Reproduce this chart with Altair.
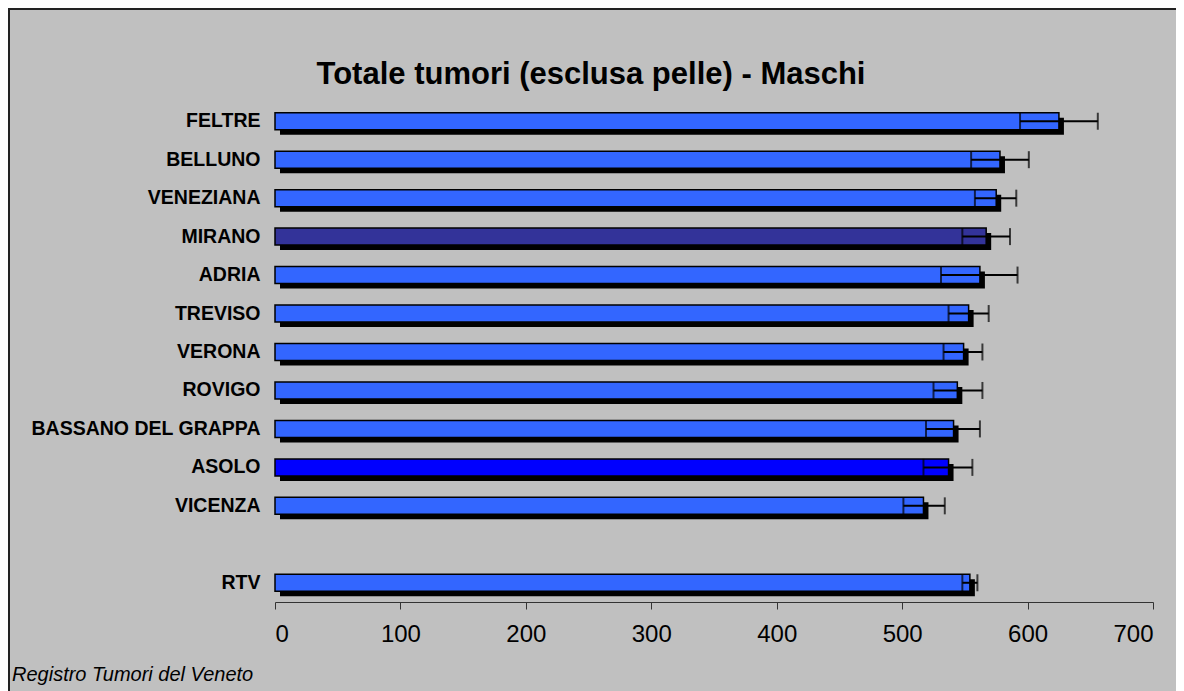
import altair as alt
import pandas as pd

# ---- data ----
areas = ["FELTRE", "BELLUNO", "VENEZIANA", "MIRANO", "ADRIA", "TREVISO",
         "VERONA", "ROVIGO", "BASSANO DEL GRAPPA", "ASOLO", "VICENZA", "RTV"]
rates = [625, 578, 575, 567, 562, 553, 549, 544, 541, 537, 517, 554]
ci_low = [594, 555, 558, 548, 531, 537, 533, 525, 519, 517, 501, 548]
ci_high = [656, 601, 591, 586, 592, 569, 564, 564, 562, 556, 534, 560]
bar_colors = ["#3366FF", "#3366FF", "#3366FF", "#333399", "#3366FF", "#3366FF",
              "#3366FF", "#3366FF", "#3366FF", "#0000FF", "#3366FF", "#3366FF"]
row_order = areas[:11] + [" "] + areas[11:]
x_ticks = [0, 100, 200, 300, 400, 500, 600, 700]
title_text = "Totale tumori (esclusa pelle) - Maschi"
footer_text = "Registro Tumori del Veneto"

df = pd.DataFrame({"area": areas, "rate": rates, "lo": ci_low, "hi": ci_high})

W, H = 878, 500
FONT = "Liberation Sans"

y_axis = alt.Axis(title=None, ticks=False, tickSize=0, domain=False, labelPadding=15,
                  labelFont=FONT, labelFontSize=19.5, labelFontWeight="bold",
                  labelColor="black", labelLimit=400)
y_scale = alt.Scale(domain=row_order, paddingInner=0.558, paddingOuter=0.279)
y_enc = alt.Y("area:N", sort=row_order, scale=y_scale, axis=y_axis)

x_axis = alt.Axis(values=x_ticks, title=None, grid=False, domainColor="#333333",
                  tickColor="#333333", tickSize=7, labelPadding=13,
                  labelFont=FONT, labelFontSize=24, labelColor="black")
x_scale = alt.Scale(domain=[0, 700], nice=False)

base = alt.Chart(df)

shadow = base.mark_bar(color="black", xOffset=5, x2Offset=5, yOffset=5).encode(
    x=alt.X("rate:Q", scale=x_scale, axis=x_axis),
    y=y_enc,
)

bars = base.mark_bar(stroke="black", strokeWidth=1.5).encode(
    x=alt.X("rate:Q", scale=x_scale, axis=x_axis),
    y=y_enc,
    color=alt.Color("area:N", scale=alt.Scale(domain=areas, range=bar_colors), legend=None),
)

err = base.mark_rule(color="black", strokeWidth=2).encode(
    x=alt.X("lo:Q", scale=x_scale, axis=x_axis), x2="hi:Q", y=y_enc)
cap_lo = base.mark_tick(color="black", size=17, thickness=2).encode(
    x=alt.X("lo:Q", scale=x_scale, axis=x_axis), y=y_enc)
cap_hi = base.mark_tick(color="black", size=17, thickness=2).encode(
    x=alt.X("hi:Q", scale=x_scale, axis=x_axis), y=y_enc)

title = alt.Chart(pd.DataFrame({"t": [title_text]})).mark_text(
    font=FONT, fontSize=31, fontWeight="bold", color="black", align="center", baseline="middle"
).encode(x=alt.value(316), y=alt.value(-27), text="t:N")

footer = alt.Chart(pd.DataFrame({"t": [footer_text]})).mark_text(
    font=FONT, fontSize=20, fontStyle="italic", color="black", align="left", baseline="alphabetic"
).encode(x=alt.value(-263), y=alt.value(579), text="t:N")

edge_df = pd.DataFrame({"t": [0]})
left_edge = alt.Chart(edge_df).mark_rule(color="#222222", strokeWidth=2).encode(
    x=alt.value(-266), y=alt.value(-94), y2=alt.value(H + 120))
top_edge = alt.Chart(edge_df).mark_rule(color="#222222", strokeWidth=2).encode(
    x=alt.value(-267), x2=alt.value(W + 120), y=alt.value(-93))

chart = alt.layer(shadow, bars, err, cap_lo, cap_hi, title, footer, left_edge, top_edge).properties(
    width=W, height=H,
    autosize=alt.AutoSizeParams(type="none"),
    padding={"left": 267, "top": 94, "right": 23, "bottom": 89},
    background="#C0C0C0",
).configure_view(stroke=None)

chart.save("out.html", embed_options={"renderer": "svg", "actions": False})
